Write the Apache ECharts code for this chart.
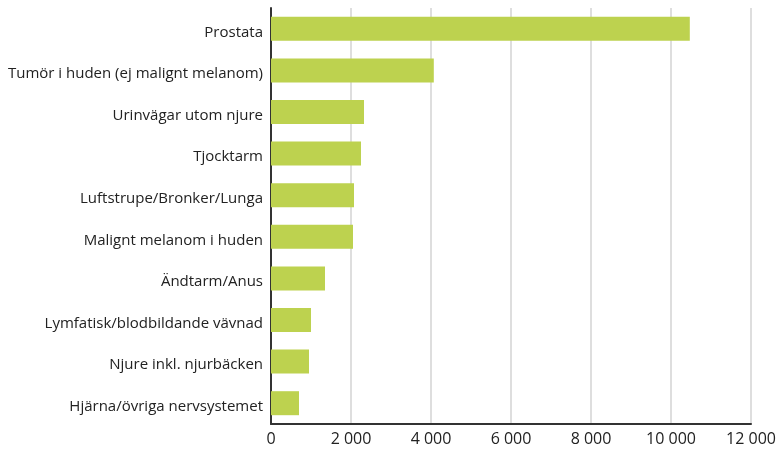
<!DOCTYPE html>
<html>
<head>
<meta charset="utf-8">
<script src="https://cdn.jsdelivr.net/npm/echarts@6/dist/echarts.min.js"></script>
<style>
html,body{margin:0;padding:0;background:#fff;}
#chart{width:783px;height:452px;}
</style>
</head>
<body>
<div id="chart"></div>
<script>
// Diagnoser, ordnade från störst till minst
const categories = [
  'Prostata',
  'Tumör i huden (ej malignt melanom)',
  'Urinvägar utom njure',
  'Tjocktarm',
  'Luftstrupe/Bronker/Lunga',
  'Malignt melanom i huden',
  'Ändtarm/Anus',
  'Lymfatisk/blodbildande vävnad',
  'Njure inkl. njurbäcken',
  'Hjärna/övriga nervsystemet'
];
const values = [10470, 4070, 2325, 2250, 2075, 2050, 1350, 1000, 950, 700];
const xTicks = [0, 2000, 4000, 6000, 8000, 10000, 12000];

const fmt = v => String(v).replace(/\B(?=(\d{3})+(?!\d))/g, ' ');
const fontFamily = '"Open Sans", Lato, sans-serif';

const chart = echarts.init(document.getElementById('chart'), null, {renderer: 'canvas'});
chart.setOption({
  animation: false,
  grid: {left: 271, right: 32, top: 8, bottom: 28, containLabel: false},
  xAxis: {
    type: 'value',
    min: xTicks[0],
    max: xTicks[xTicks.length - 1],
    interval: xTicks[1] - xTicks[0],
    axisLine: {show: true, lineStyle: {color: '#333', width: 2}},
    axisTick: {show: false},
    splitLine: {show: true, lineStyle: {color: '#d3d3d3', width: 1.5}},
    axisLabel: {
      color: '#222', fontSize: 16, fontFamily, margin: 7,
      formatter: v => fmt(v)
    }
  },
  yAxis: {
    type: 'category',
    data: categories,
    inverse: true,
    axisLine: {show: true, lineStyle: {color: '#333', width: 2}},
    axisTick: {show: false},
    axisLabel: {
      margin: 8,
      formatter: v => '{c|' + v + '}',
      rich: {c: {color: '#222', fontSize: 15, fontFamily, padding: [7, 0, 0, 0]}}
    }
  },
  series: [{
    type: 'bar',
    data: values,
    barWidth: 24,
    itemStyle: {color: '#bdd24f'}
  }]
});
</script>
</body>
</html>
